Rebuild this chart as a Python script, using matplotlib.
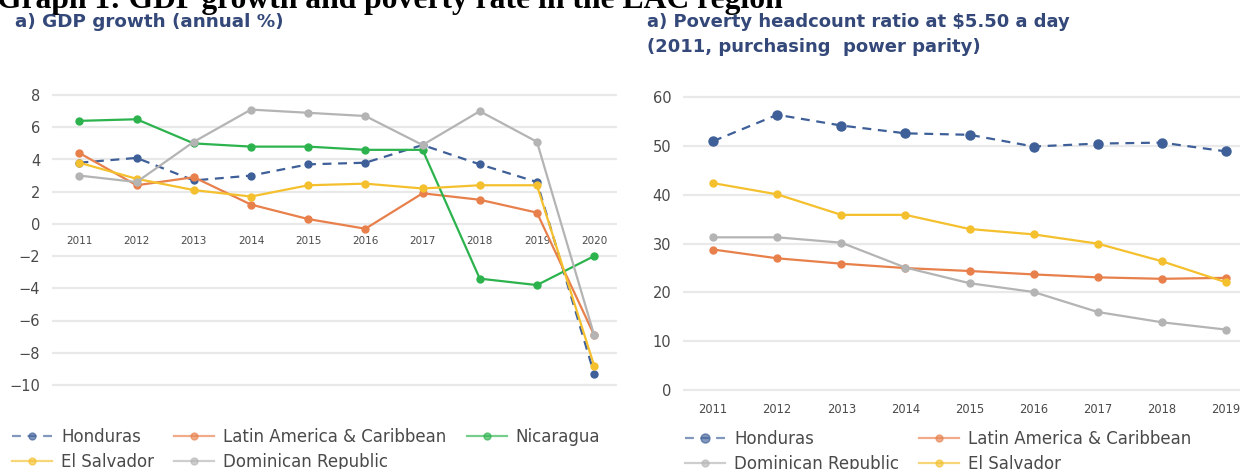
import matplotlib
matplotlib.use("Agg")
import matplotlib.pyplot as plt

# ---- data ----
gdp_years = [2011, 2012, 2013, 2014, 2015, 2016, 2017, 2018, 2019, 2020]
gdp_honduras = [3.8, 4.1, 2.7, 3.0, 3.7, 3.8, 4.9, 3.7, 2.6, -9.3]
gdp_lac = [4.4, 2.4, 2.9, 1.2, 0.3, -0.3, 1.9, 1.5, 0.7, -6.9]
gdp_nicaragua = [6.4, 6.5, 5.0, 4.8, 4.8, 4.6, 4.6, -3.4, -3.8, -2.0]
gdp_el_salvador = [3.8, 2.8, 2.1, 1.7, 2.4, 2.5, 2.2, 2.4, 2.4, -8.8]
gdp_dominican = [3.0, 2.6, 5.1, 7.1, 6.9, 6.7, 4.9, 7.0, 5.1, -6.9]

pov_years = [2011, 2012, 2013, 2014, 2015, 2016, 2017, 2018, 2019]
pov_honduras = [51.0, 56.4, 54.2, 52.6, 52.3, 49.9, 50.5, 50.7, 48.9]
pov_lac = [28.8, 27.0, 25.9, 25.0, 24.4, 23.7, 23.1, 22.8, 23.0]
pov_dominican = [31.3, 31.3, 30.2, 25.1, 21.9, 20.1, 16.0, 13.9, 12.4]
pov_el_salvador = [42.4, 40.1, 35.9, 35.9, 33.0, 31.9, 30.0, 26.4, 22.1]

gdp_yticks = [8, 6, 4, 2, 0, -2, -4, -6, -8, -10]
pov_yticks = [60, 50, 40, 30, 20, 10, 0]

BLUE = "#3e5f98"
ORANGE = "#e8804c"
GREEN = "#2db34e"
YELLOW = "#f4c02e"
GRAY = "#b4b4b4"
NAVY = "#34497a"
TICK = "#4a4a4a"
GRID = "#e9e9e9"

W, H = 1240, 469
fig = plt.figure(figsize=(W / 100, H / 100), dpi=100)


def px_axes(x0, x1, y0, y1):
    return fig.add_axes([x0 / W, 1 - y1 / H, (x1 - x0) / W, (y1 - y0) / H])


def style(ax, yticks):
    for s in ax.spines.values():
        s.set_visible(False)
    ax.set_yticks(yticks)
    ax.set_yticklabels(["\u2212" + str(-v) if v < 0 else str(v) for v in yticks])
    ax.tick_params(axis="y", length=0, pad=8.5, labelsize=10.5, labelcolor=TICK)
    ax.grid(axis="y", color=GRID, linewidth=1.6)
    ax.set_axisbelow(True)


def fade(leg):
    for h in leg.legend_handles:
        h.set_alpha(0.65)


# ---- left: GDP growth ----
ax1 = px_axes(52, 617, 79, 401)
ax1.set_xlim(2010.52, 2020.4)
ax1.set_ylim(-11, 9)
style(ax1, gdp_yticks)
ax1.spines["bottom"].set_position(("data", 0))
ax1.set_xticks(gdp_years)
ax1.tick_params(axis="x", length=0, pad=9, labelsize=7.5, labelcolor=TICK)

l_h, = ax1.plot(gdp_years, gdp_honduras, color=BLUE, lw=1.6, ls=(0, (4, 3)),
                marker="o", ms=5, label="Honduras")
l_l, = ax1.plot(gdp_years, gdp_lac, color=ORANGE, lw=1.6, marker="o", ms=5,
                label="Latin America & Caribbean")
l_n, = ax1.plot(gdp_years, gdp_nicaragua, color=GREEN, lw=1.6, marker="o", ms=5,
                label="Nicaragua")
l_e, = ax1.plot(gdp_years, gdp_el_salvador, color=YELLOW, lw=1.6, marker="o", ms=5,
                label="El Salvador")
l_d, = ax1.plot(gdp_years, gdp_dominican, color=GRAY, lw=1.6, marker="o", ms=5,
                label="Dominican Republic")

leg_kw = dict(frameon=False, fontsize=12, labelcolor=TICK, handlelength=2.4,
              handletextpad=0.55, columnspacing=1.2, labelspacing=0.4,
              borderpad=0, borderaxespad=0, loc="upper left")
leg1 = fig.legend([l_h, l_e, l_l, l_d, l_n],
                  ["Honduras", "El Salvador", "Latin America & Caribbean",
                   "Dominican Republic", "Nicaragua"],
                  ncol=3, bbox_to_anchor=(12 / W, 1 - 428 / H), **leg_kw)
fade(leg1)

# ---- right: poverty ----
ax2 = px_axes(683, 1240, 85, 395)
ax2.set_xlim(2010.53, 2019.22)
ax2.set_ylim(-1, 62.5)
style(ax2, pov_yticks)
ax2.set_xticks(pov_years)
ax2.tick_params(axis="x", length=0, pad=6, labelsize=8.3, labelcolor=TICK)

r_h, = ax2.plot(pov_years, pov_honduras, color=BLUE, lw=1.6, ls=(0, (4, 3)),
                marker="o", ms=6.5, label="Honduras")
r_l, = ax2.plot(pov_years, pov_lac, color=ORANGE, lw=1.6, marker="o", ms=5,
                label="Latin America & Caribbean")
r_d, = ax2.plot(pov_years, pov_dominican, color=GRAY, lw=1.6, marker="o", ms=5,
                label="Dominican Republic")
r_e, = ax2.plot(pov_years, pov_el_salvador, color=YELLOW, lw=1.6, marker="o", ms=5,
                label="El Salvador")

leg2 = fig.legend([r_h, r_d, r_l, r_e],
                  ["Honduras", "Dominican Republic", "Latin America & Caribbean",
                   "El Salvador"],
                  ncol=2, bbox_to_anchor=(685 / W, 1 - 430 / H), **leg_kw)
fade(leg2)

# ---- titles ----
fig.text(-3 / W, 1 - 8 / H, "Graph 1: GDP growth and poverty rate in the LAC region",
         family="Liberation Serif", weight="bold", fontsize=22.8, color="black",
         va="baseline", ha="left")
fig.text(15 / W, 1 - 22 / H, "a) GDP growth (annual %)", weight="bold",
         fontsize=13.2, color=NAVY, va="center", ha="left")
fig.text(647 / W, 1 - 22 / H, "a) Poverty headcount ratio at $5.50 a day",
         weight="bold", fontsize=13, color=NAVY, va="center", ha="left")
fig.text(647 / W, 1 - 47 / H, "(2011, purchasing  power parity)",
         weight="bold", fontsize=13, color=NAVY, va="center", ha="left")

fig.savefig("out.png", dpi=100)
